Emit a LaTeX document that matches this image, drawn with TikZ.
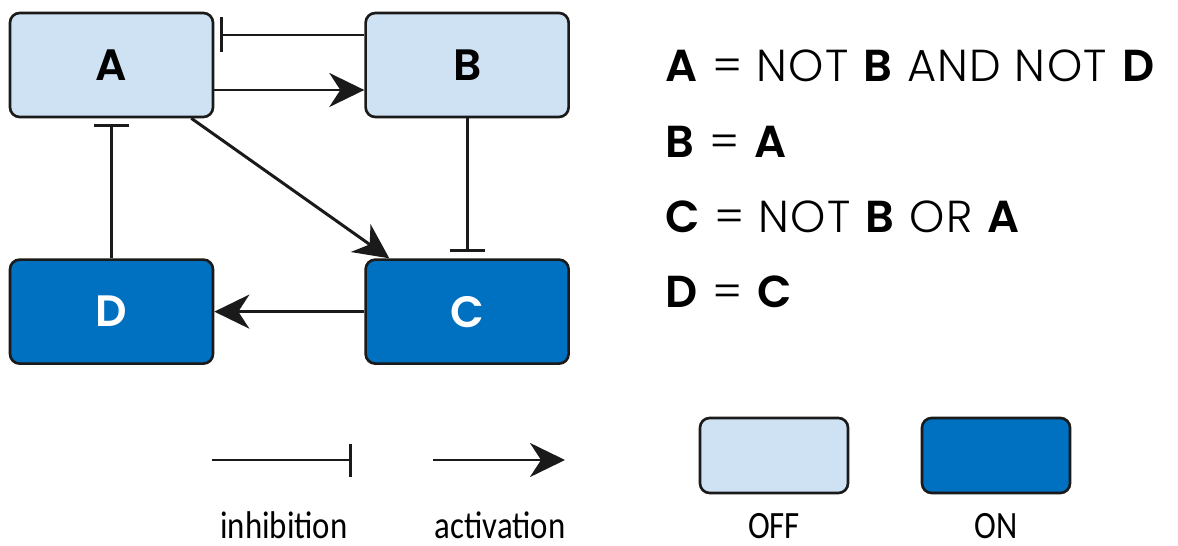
\documentclass[tikz,border=0pt]{standalone}
\usepackage{fontspec}
\setmainfont{Poppins}[UprightFont=* Light,BoldFont=* SemiBold,LetterSpace=3]
\newfontfamily\legendfont{Carlito}[FakeStretch=0.85]
\usepackage{tikz}
\usetikzlibrary{arrows.meta,positioning}
\definecolor{geneoff}{HTML}{CFE2F3}
\definecolor{geneon}{HTML}{0070C0}
\definecolor{geneink}{HTML}{1A1A1A}

\begin{document}
\begin{tikzpicture}[
  gene/.style={draw=geneink,line width=1.5pt,rounded corners=5.5pt,
    minimum width=4.06cm,minimum height=2.08cm,font=\fontsize{25}{29}\selectfont\bfseries},
  offbox/.style={gene,fill=geneoff,text=black},
  onbox/.style={gene,fill=geneon,text=white},
  act/.style={-{Stealth[length=7mm,width=6.8mm,inset=2.2mm]},line width=1.7pt,draw=geneink},
  inh/.style={-{Bar[width=7mm]},line width=1.7pt,draw=geneink,shorten >=1.2mm},
  rule/.style={anchor=west,inner sep=0pt,font=\fontsize{25.5}{29}\selectfont},
  key/.style={anchor=base,inner sep=0pt,font=\legendfont\fontsize{22}{26}\selectfont}]
\useasboundingbox (0,0) rectangle (23.56,-10.92);
\node[offbox] (A) at (2.23,-1.30) {A};
\node[offbox,right=3cm of A] (B) {B};
\node[onbox,below=2.8cm of A] (D) {D};
\node[onbox,below=2.8cm of B] (C) {C};
\draw[act] ([yshift=-0.5cm]A.east)--([yshift=-0.5cm]B.west);
\draw[inh] ([yshift=0.6cm]B.west)--([yshift=0.6cm]A.east);
\draw[inh] (D.north)--(A.south);
\draw[inh] (B.south)--(C.north);
\draw[act] ([xshift=-0.46cm]A.south east)--([xshift=0.5cm]C.north west);
\draw[act] (C.west)--(D.east);
% update rules
\node[rule] (eqA) at (13.3,-1.32) {\textbf{A} = NOT \textbf{B} AND NOT \textbf{D}};
\node[rule] (eqB) at (13.3,-2.84) {\textbf{B} = \textbf{A}};
\node[rule] (eqC) at (13.3,-4.34) {\textbf{C} = NOT \textbf{B} OR \textbf{A}};
\node[rule] (eqD) at (13.3,-5.84) {\textbf{D} = \textbf{C}};
% legend
\coordinate (inhL) at (4.24,-9.2);
\coordinate (inhR) at (7.04,-9.2);
\coordinate (actL) at (8.66,-9.2);
\coordinate (actR) at (11.3,-9.2);
\draw[inh,-{Bar[width=6.6mm]},shorten >=0pt] (inhL)--(inhR);
\draw[act] (actL)--(actR);
\node[offbox,minimum width=2.96cm,minimum height=1.5cm] (keyoff) at (15.48,-9.11) {};
\node[onbox,minimum width=2.96cm,minimum height=1.5cm] (keyon) at (19.92,-9.11) {};
\node[key] (txtinh) at (5.68,-10.76) {inhibition};
\node[key] (txtact) at (10.0,-10.76) {activation};
\node[key] (txtoff) at (15.48,-10.76) {OFF};
\node[key] (txton) at (19.92,-10.76) {ON};
\end{tikzpicture}
\end{document}
